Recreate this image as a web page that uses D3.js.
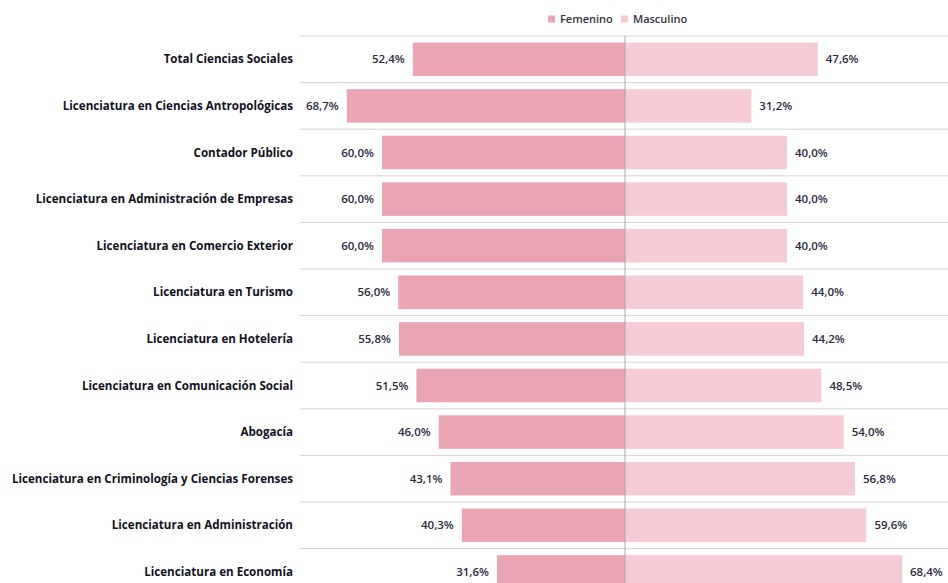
<!DOCTYPE html>
<html>
<head>
<meta charset="utf-8">
<script src="https://cdn.jsdelivr.net/npm/d3@7"></script>
<style>
  body { margin: 0; background: #fff; }
  svg { display: block; font-family: "Open Sans", Lato, sans-serif; }
</style>
</head>
<body>
<svg></svg>
<script>
// dimensions
var WIDTH = 948;
var HEIGHT = 583;
var CENTER = 625;

// données
const categories = ["Total Ciencias Sociales", "Licenciatura en Ciencias Antropológicas", "Contador Público",
  "Licenciatura en Administración de Empresas", "Licenciatura en Comercio Exterior", "Licenciatura en Turismo",
  "Licenciatura en Hotelería", "Licenciatura en Comunicación Social", "Abogacía",
  "Licenciatura en Criminología y Ciencias Forenses", "Licenciatura en Administración", "Licenciatura en Economía"];
const femenino = [52.4, 68.7, 60.0, 60.0, 60.0, 56.0, 55.8, 51.5, 46.0, 43.1, 40.3, 31.6];
const masculino = [47.6, 31.2, 40.0, 40.0, 40.0, 44.0, 44.2, 48.5, 54.0, 56.8, 59.6, 68.4];
const series = ["Femenino", "Masculino"];
const colors = ["#eaa5b5", "#f5ccd5"];

const rows = categories.map((c, i) => ({ cat: c, f: femenino[i], m: masculino[i] }));
const fmt = v => d3.format(".1f")(v).replace(".", ",") + "%";

const svg = d3.select("svg").attr("width", WIDTH).attr("height", HEIGHT);

const y = d3.scaleBand()
  .domain(categories)
  .range([36, 36 + 46.6 * categories.length])
  .paddingInner(0.28)
  .paddingOuter(0.14);

const x = d3.scaleLinear().domain([0, 100]).range([0, 405]);

// lignes horizontales
const step = y.step();
svg.append("g").selectAll("line")
  .data(d3.range(categories.length + 1))
  .join("line")
  .attr("x1", 300).attr("x2", WIDTH)
  .attr("y1", i => 36 + i * step).attr("y2", i => 36 + i * step)
  .attr("stroke", "#d4d4dc").attr("stroke-width", 1);

// barres femenino
svg.append("g").selectAll("rect")
  .data(rows)
  .join("rect")
  .attr("x", d => CENTER - x(d.f))
  .attr("y", d => y(d.cat))
  .attr("width", d => x(d.f))
  .attr("height", y.bandwidth())
  .attr("fill", colors[0]);

// barres masculino
svg.append("g").selectAll("rect")
  .data(rows)
  .join("rect")
  .attr("x", CENTER)
  .attr("y", d => y(d.cat))
  .attr("width", d => x(d.m))
  .attr("height", y.bandwidth())
  .attr("fill", colors[1]);

// axe central
svg.append("line")
  .attr("x1", CENTER).attr("x2", CENTER)
  .attr("y1", 36).attr("y2", HEIGHT)
  .attr("stroke", "#a6a6b0").attr("stroke-width", 1);

// étiquettes des catégories
svg.append("g").selectAll("text")
  .data(rows)
  .join("text")
  .attr("x", 293)
  .attr("y", d => y(d.cat) + y.bandwidth() / 2)
  .attr("dy", "0.35em")
  .attr("text-anchor", "end")
  .attr("font-size", 11.6)
  .attr("font-weight", "bold")
  .attr("fill", "#111122")
  .text(d => d.cat);

// valeurs
svg.append("g").selectAll("text")
  .data(rows)
  .join("text")
  .attr("x", d => CENTER - x(d.f) - 8)
  .attr("y", d => y(d.cat) + y.bandwidth() / 2)
  .attr("dy", "0.35em")
  .attr("text-anchor", "end")
  .attr("font-size", 11.5)
  .attr("font-weight", 600)
  .attr("fill", "#2a2a3e")
  .text(d => fmt(d.f));

svg.append("g").selectAll("text")
  .data(rows)
  .join("text")
  .attr("x", d => CENTER + x(d.m) + 8)
  .attr("y", d => y(d.cat) + y.bandwidth() / 2)
  .attr("dy", "0.35em")
  .attr("font-size", 11.5)
  .attr("font-weight", 600)
  .attr("fill", "#2a2a3e")
  .text(d => fmt(d.m));

// légende
const legend = svg.append("g").selectAll("g")
  .data(series)
  .join("g")
  .attr("transform", (d, i) => "translate(" + (548 + i * 73) + ",19)");
legend.append("rect")
  .attr("x", 0).attr("y", -3.5)
  .attr("width", 7).attr("height", 7)
  .attr("fill", (d, i) => colors[i]);
legend.append("text")
  .attr("x", 12).attr("dy", "0.35em")
  .attr("font-size", 11)
  .attr("font-weight", 600)
  .attr("fill", "#333340")
  .text(d => d);
</script>
</body>
</html>
